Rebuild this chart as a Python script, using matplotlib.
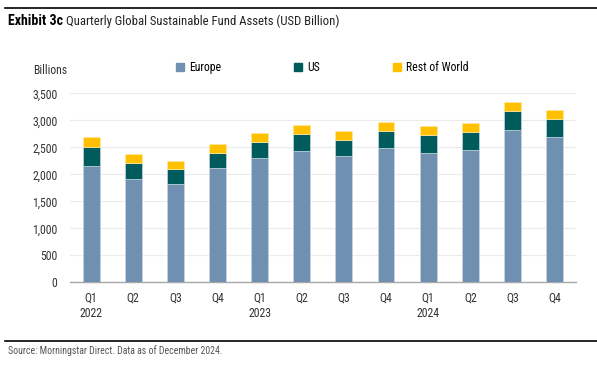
import matplotlib
matplotlib.use('Agg')
import matplotlib.pyplot as plt
from matplotlib.lines import Line2D
import numpy as np

plt.rcParams['font.family'] = ['Roboto Condensed', 'Archivo Narrow', 'DejaVu Sans']

quarters = ['Q1\n2022', 'Q2', 'Q3', 'Q4', 'Q1\n2023', 'Q2', 'Q3', 'Q4',
            'Q1\n2024', 'Q2', 'Q3', 'Q4']
europe = [2159, 1913, 1827, 2111, 2302, 2432, 2345, 2481, 2389, 2450, 2815, 2685]
us = [347, 296, 266, 290, 302, 315, 296, 327, 339, 339, 352, 339]
rest_of_world = [185, 173, 153, 154, 167, 161, 161, 161, 161, 161, 172, 173]

c_eu = '#7090B2'
c_us = '#005B5C'
c_row = '#FFC000'
txt = '#333333'

fig = plt.figure(figsize=(5.97, 3.67), dpi=100)
ax = fig.add_axes([0.1173, 0.2308, 0.847, 0.515])

x = np.arange(len(quarters))
w = 0.4
eu = np.array(europe)
usa = np.array(us)
row = np.array(rest_of_world)
ax.bar(x, eu, w, color=c_eu, edgecolor='#c9d5e2', linewidth=0.5, zorder=3)
ax.bar(x, usa, w, bottom=eu, color=c_us, edgecolor='#c9d5e2', linewidth=0.5, zorder=3)
ax.bar(x, row, w, bottom=eu + usa, color=c_row, edgecolor='#ffe9a0', linewidth=0.5, zorder=3)

ax.set_xlim(-0.5, len(quarters) - 0.5)
ax.set_ylim(0, 3500)
ax.set_yticks(np.arange(0, 3501, 500))
ax.set_yticklabels([f'{v:,}' for v in range(0, 3501, 500)], fontsize=8.5, color=txt)
ax.set_xticks(x)
ax.set_xticklabels(quarters, fontsize=8.5, color=txt, linespacing=1.2)
ax.tick_params(axis='both', length=0)
ax.tick_params(axis='x', pad=7)
ax.tick_params(axis='y', pad=9)
ax.yaxis.grid(True, color='#ebebeb', linewidth=0.8, zorder=0)
for s in ['top', 'right', 'left']:
    ax.spines[s].set_visible(False)
ax.spines['bottom'].set_color('#a8a8a8')
ax.spines['bottom'].set_linewidth(1.0)

handles = [Line2D([], [], marker='s', linestyle='none', markersize=6, color=c)
           for c in (c_eu, c_us, c_row)]
ax.legend(handles, ['Europe', 'US', 'Rest of World'], ncol=3, frameon=False,
          fontsize=8.5, loc='center left', bbox_to_anchor=(0.196, 1.135),
          handletextpad=0.3, columnspacing=6.0, handlelength=1.0, borderaxespad=0)

fig.text(33 / 597, 1 - 71 / 367, 'Billions', fontsize=8.5, color=txt, va='center')

t1 = fig.text(8 / 597, 1 - 21 / 367, 'Exhibit 3c', fontsize=10, fontweight='bold', va='center')
fig.canvas.draw()
x_end = t1.get_window_extent().x1 / fig.bbox.width
fig.text(x_end + 3 / 597, 1 - 21 / 367, 'Quarterly Global Sustainable Fund Assets (USD Billion)',
         fontsize=9.2, va='center', color='#222222')
fig.text(8 / 597, 1 - 351 / 367, 'Source: Morningstar Direct. Data as of December 2024.',
         fontsize=7.1, color='#555555', va='center')

fig.add_artist(Line2D([5 / 597, 1], [1 - 8 / 367, 1 - 8 / 367], color='black', linewidth=1.2))
fig.add_artist(Line2D([5 / 597, 1], [1 - 340.5 / 367, 1 - 340.5 / 367], color='black', linewidth=1.2))

fig.savefig('out.png', dpi=100)
plt.close()
